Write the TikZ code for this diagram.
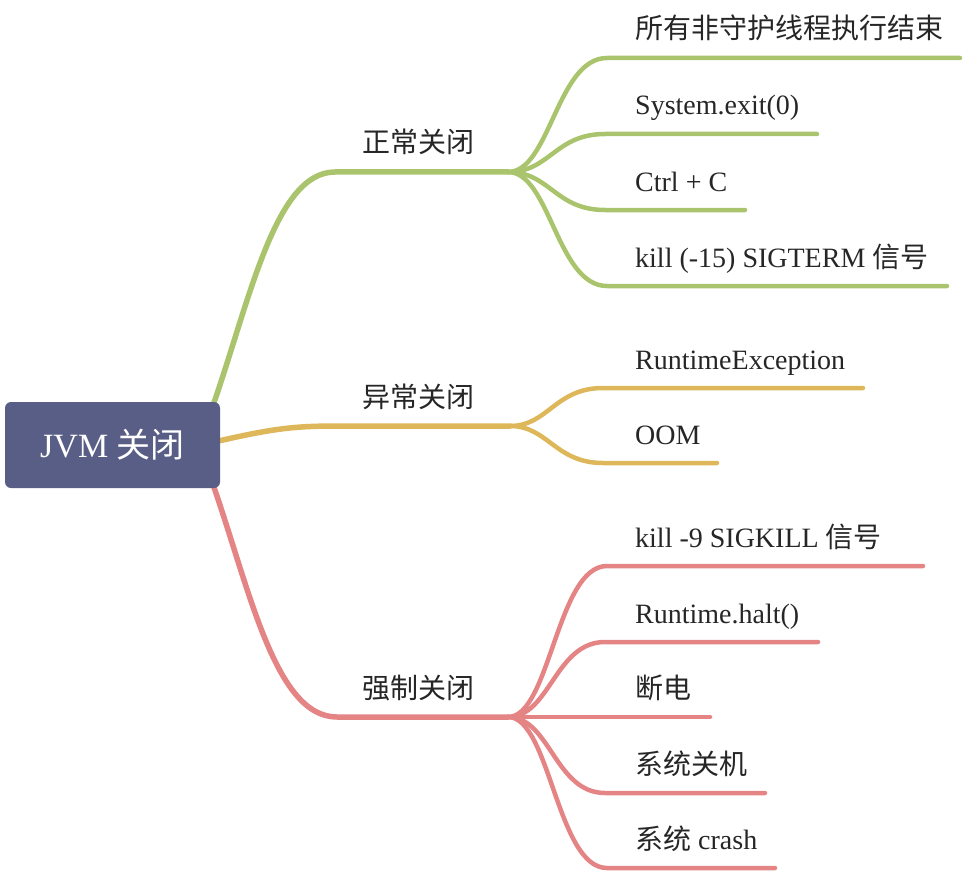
\documentclass[tikz,border=0pt]{standalone}
\usepackage{fontspec}
\setmainfont{Liberation Serif}
\newfontfamily\zh{Noto Sans CJK SC}
\usetikzlibrary{calc}
\pgfdeclarelayer{bg}
\pgfsetlayers{bg,main}
\definecolor{gc}{RGB}{169,196,108}
\definecolor{yc}{RGB}{222,183,90}
\definecolor{rc}{RGB}{228,132,132}
\definecolor{rootc}{RGB}{89,94,134}
\definecolor{txt}{RGB}{38,38,38}
\tikzset{
  rootbox/.style={draw=none, fill=rootc, rounded corners=6pt, minimum width=215pt, minimum height=86pt, inner sep=0pt, text=white, font=\fontsize{34}{40}\selectfont},
  lbl/.style={anchor=base, inner sep=0pt, text=txt, font=\fontsize{28}{34}\selectfont},
  leaf/.style={anchor=base west, inner sep=0pt, text=txt, font=\fontsize{28}{34}\selectfont},
  mainline/.style={line width=5.5pt, line cap=round, draw=#1},
  kidline/.style={line width=4.5pt, line cap=round, draw=#1},
  kid/.style={kidline=#1}
}
\begin{document}
\begin{tikzpicture}[x=1pt,y=-1pt]
\useasboundingbox (0,0) rectangle (964,872);
\node[rootbox] (root) at (112.5,445) {JVM {\zh 关闭}};

% ---------- green branch ----------
\coordinate (gm) at (335,172);
\coordinate (gj) at (508,172);
\node[lbl] (gl) at (418,153) {\zh 正常关闭};
\coordinate (g1s) at (607,58);  \coordinate (g1e) at (960,58);
\coordinate (g2s) at (605,134); \coordinate (g2e) at (817,134);
\coordinate (g3s) at (605,210); \coordinate (g3e) at (745,210);
\coordinate (g4s) at (607,286); \coordinate (g4e) at (947,286);
\node[leaf] (g1) at (635,39) {\zh 所有非守护线程执行结束};
\node[leaf] (g2) at (635,115) {System.exit(0)};
\node[leaf] (g3) at (635,191) {Ctrl + C};
\node[leaf] (g4) at (635,267) {kill (-15) SIGTERM {\zh 信号}};

% ---------- yellow branch ----------
\coordinate (ym) at (340,426);
\coordinate (yj) at (510,426);
\node[lbl] (yl) at (418,407) {\zh 异常关闭};
\coordinate (y1s) at (603,388); \coordinate (y1e) at (863,388);
\coordinate (y2s) at (603,463); \coordinate (y2e) at (717,463);
\node[leaf] (y1) at (635,369) {RuntimeException};
\node[leaf] (y2) at (635,444) {OOM};

% ---------- red branch ----------
\coordinate (rm) at (337,717);
\coordinate (rj) at (508,717);
\node[lbl] (rl) at (418,698) {\zh 强制关闭};
\coordinate (r1s) at (607,566); \coordinate (r1e) at (923,566);
\coordinate (r2s) at (605,642); \coordinate (r2e) at (818,642);
\coordinate (r3s) at (600,717); \coordinate (r3e) at (710,717);
\coordinate (r4s) at (605,793); \coordinate (r4e) at (765,793);
\coordinate (r5s) at (607,868); \coordinate (r5e) at (775,868);
\node[leaf] (r1) at (635,547) {kill -9 SIGKILL {\zh 信号}};
\node[leaf] (r2) at (635,623) {Runtime.halt()};
\node[leaf] (r3) at (635,698) {\zh 断电};
\node[leaf] (r4) at (635,774) {\zh 系统关机};
\node[leaf] (r5) at (635,849) {{\zh 系统} crash};

\begin{pgfonlayer}{bg}
  % main branches
  \draw[mainline=gc] ($(root.north east)+(-8,6)$) .. controls (250,300) and (275,172) .. (gm) -- (gj);
  \draw[mainline=yc] ($(root.east)+(-6,-3)$) .. controls (275,428) and (295,426) .. (ym) -- (yj);
  \draw[mainline=rc] ($(root.south east)+(-8,-6)$) .. controls (250,590) and (275,717) .. (rm) -- (rj);
  % green children
  \draw[kid=gc] (gj) .. controls +(42,0) and +(-50,0) .. (g1s) -- (g1e);
  \draw[kid=gc] (gj) .. controls +(42,0) and +(-50,0) .. (g2s) -- (g2e);
  \draw[kid=gc] (gj) .. controls +(42,0) and +(-50,0) .. (g3s) -- (g3e);
  \draw[kid=gc] (gj) .. controls +(42,0) and +(-50,0) .. (g4s) -- (g4e);
  % yellow children
  \draw[kid=yc] (yj) .. controls +(38,0) and +(-48,0) .. (y1s) -- (y1e);
  \draw[kid=yc] (yj) .. controls +(38,0) and +(-48,0) .. (y2s) -- (y2e);
  % red children
  \draw[kid=rc] (rj) .. controls +(42,0) and +(-50,0) .. (r1s) -- (r1e);
  \draw[kid=rc] (rj) .. controls +(42,0) and +(-50,0) .. (r2s) -- (r2e);
  \draw[kid=rc] (rj) -- (r3s) -- (r3e);
  \draw[kid=rc] (rj) .. controls +(42,0) and +(-50,0) .. (r4s) -- (r4e);
  \draw[kid=rc] (rj) .. controls +(42,0) and +(-50,0) .. (r5s) -- (r5e);
\end{pgfonlayer}
\end{tikzpicture}
\end{document}
